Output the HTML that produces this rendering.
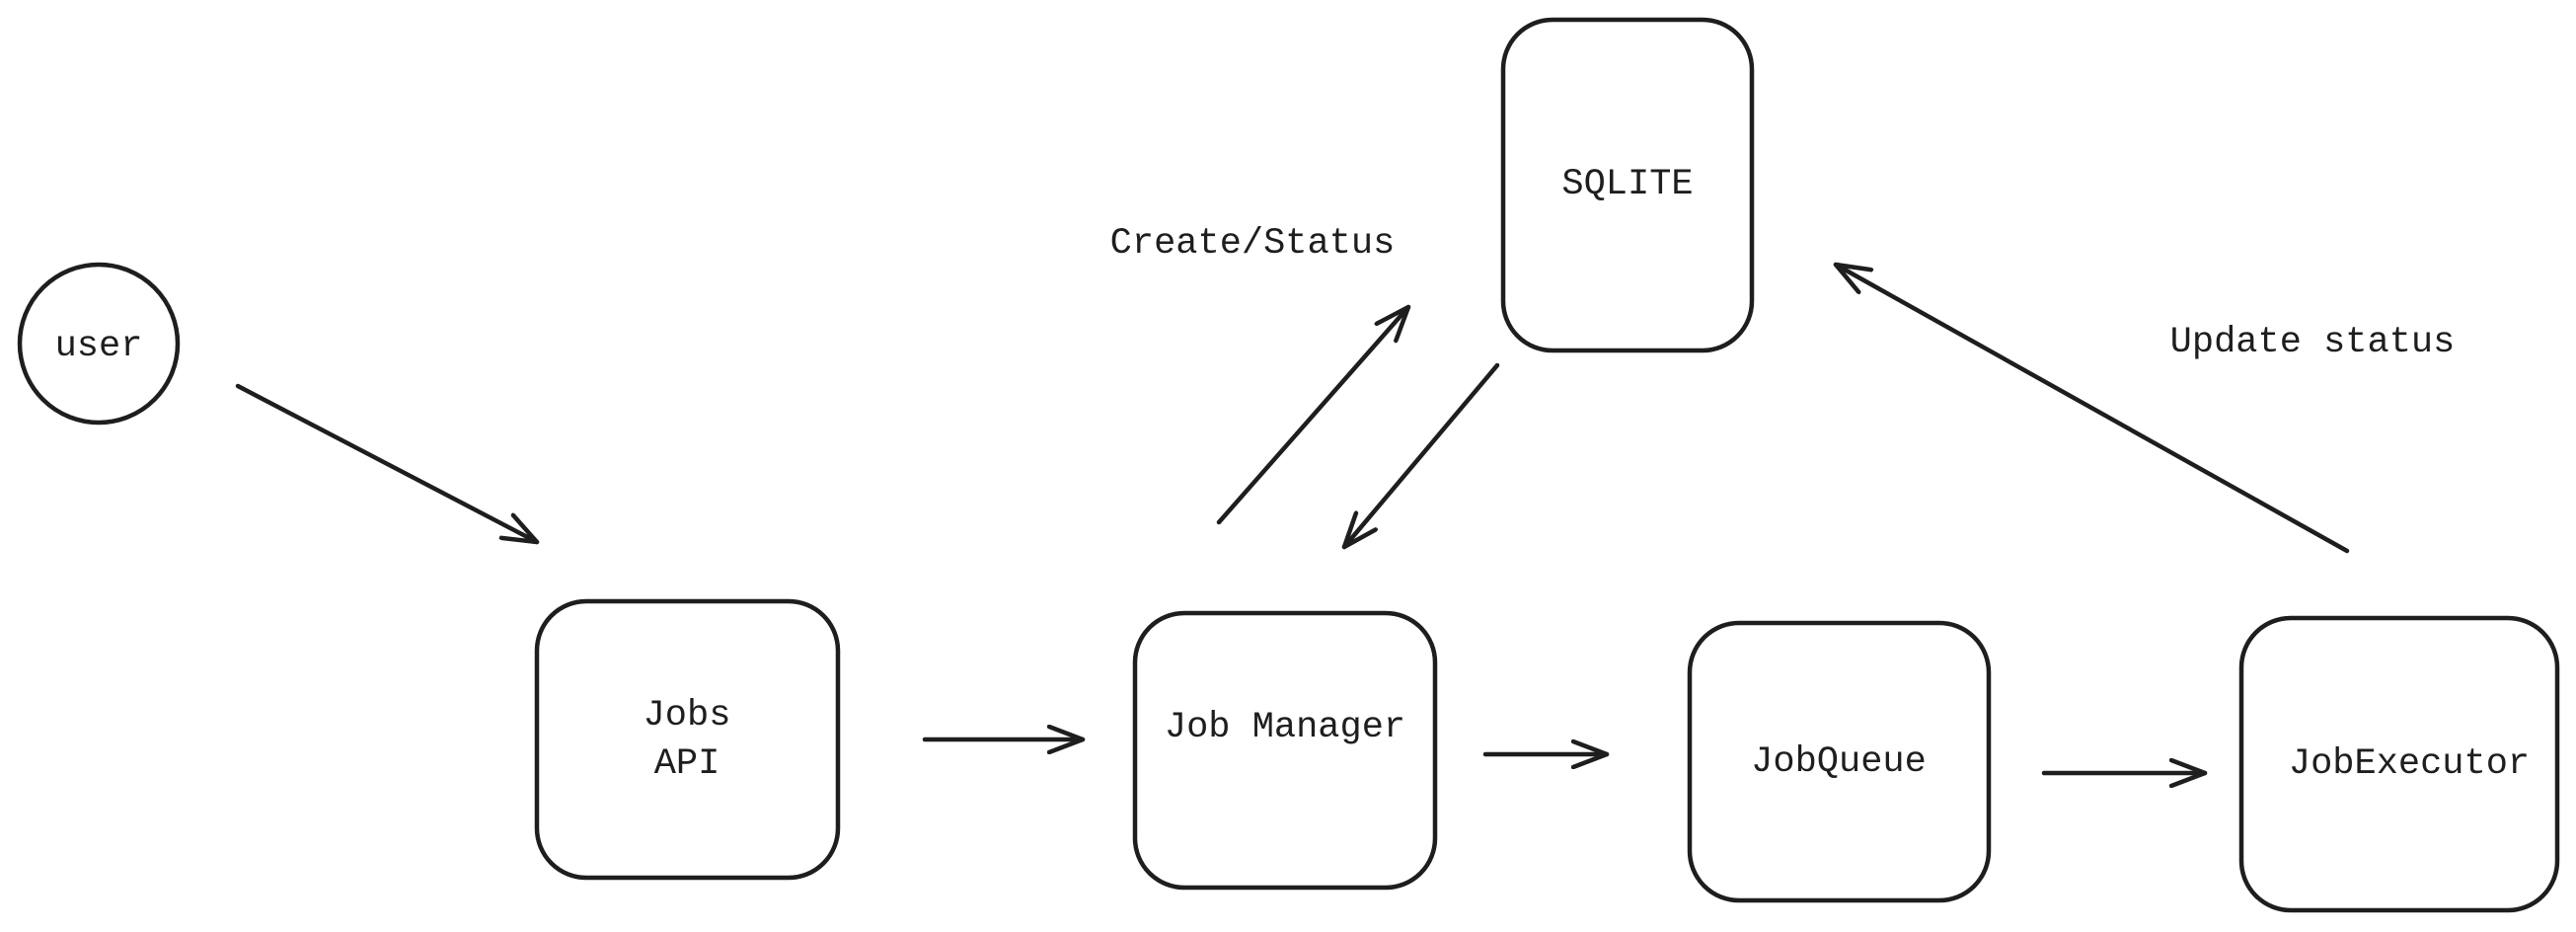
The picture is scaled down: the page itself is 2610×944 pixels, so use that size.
<!DOCTYPE html>
<html><head><meta charset="utf-8"><style>
html,body{margin:0;padding:0;background:#fff;}
svg{display:block;}
text{font-family:"Liberation Mono","DejaVu Sans Mono",monospace;font-size:37px;fill:#1e1e1e;text-anchor:middle;dominant-baseline:middle;}
</style></head><body>
<svg width="2610" height="944" viewBox="0 0 2610 944" xmlns="http://www.w3.org/2000/svg">
<defs>
<marker id="a" markerWidth="40" markerHeight="30" refX="36" refY="15" orient="auto" markerUnits="userSpaceOnUse">
<path d="M2,2 L36,15 L2,28" fill="none" stroke="#1e1e1e" stroke-width="4.5" stroke-linecap="round" stroke-linejoin="round"/>
</marker>
</defs>
<g fill="none" stroke="#1e1e1e" stroke-width="4.5" stroke-linecap="round">
<circle cx="100" cy="348" r="80"/>
<rect x="544" y="609" width="305" height="280" rx="50"/>
<rect x="1150" y="621" width="304" height="278" rx="50"/>
<rect x="1712" y="631" width="303" height="281" rx="50"/>
<rect x="2271" y="626" width="320" height="296" rx="50"/>
<rect x="1523" y="20" width="252" height="335" rx="50"/>
<line x1="241" y1="391" x2="544" y2="549" marker-end="url(#a)"/>
<line x1="937" y1="749" x2="1097" y2="749" marker-end="url(#a)"/>
<line x1="1505" y1="764" x2="1628" y2="764" marker-end="url(#a)"/>
<line x1="2071" y1="783" x2="2234" y2="783" marker-end="url(#a)"/>
<line x1="1235" y1="529" x2="1427" y2="311" marker-end="url(#a)"/>
<line x1="1517" y1="370" x2="1362" y2="554" marker-end="url(#a)"/>
<line x1="2378" y1="558" x2="1860" y2="268" marker-end="url(#a)"/>
</g>
<text x="100" y="350">user</text>
<text x="696" y="724">Jobs</text>
<text x="696" y="773">API</text>
<text x="1302" y="736">Job Manager</text>
<text x="1863" y="771">JobQueue</text>
<text x="2441" y="773">JobExecutor</text>
<text x="1649" y="186">SQLITE</text>
<text x="1269" y="246">Create/Status</text>
<text x="2343" y="346">Update status</text>
</svg>
</body></html>
